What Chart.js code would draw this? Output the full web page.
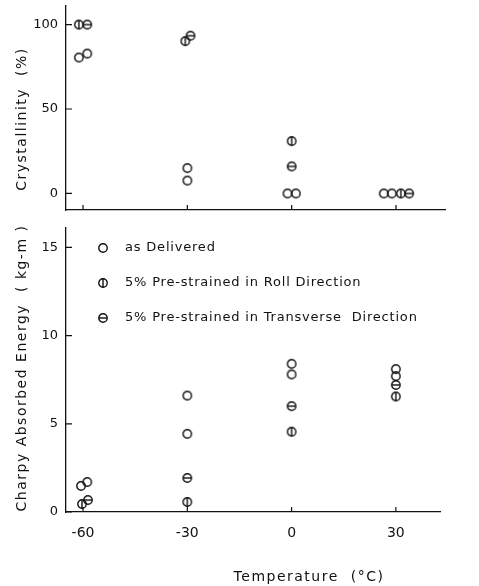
<!DOCTYPE html>
<html>
<head>
<meta charset="utf-8">
<script src="https://cdn.jsdelivr.net/npm/chart.js@4/dist/chart.umd.min.js"></script>
<style>
  html, body { margin: 0; padding: 0; background: #fff; }
  #wrap { position: relative; width: 479px; height: 586px; }
  canvas { position: absolute; left: 0; }
</style>
</head>
<body>
<div id="wrap">
  <canvas id="topChart" width="479" height="216" style="top:0"></canvas>
  <canvas id="botChart" width="479" height="366" style="top:220px"></canvas>
</div>
<script>
// eixo x comum (temperatura, °C)
const xTicks = [-60, -30, 0, 30];
const seriesNames = ['as Delivered', '5% Pre-strained in Roll Direction', '5% Pre-strained in Transverse  Direction'];

// painel de cima: cristalinidade (%)
const crystTicks = [0, 50, 100];
const crystDeliveredX = [-61.2, -58.8, -30, -30, -1.2, 1.2, 26.5, 28.8];
const crystDeliveredY = [80.5, 82.8, 15, 7.6, 0, 0, 0, 0];
const crystRollX = [-61.2, -30.6, 0, 31.4];
const crystRollY = [100, 90.2, 31, 0];
const crystTransX = [-58.8, -29.1, 0, 33.8];
const crystTransY = [100, 93.4, 16, 0];

// painel de baixo: energia Charpy (kg-m)
const charpyTicks = [0, 5, 10, 15];
const charpyDeliveredX = [-60.6, -58.8, -30, -30, 0, 0, 30, 30];
const charpyDeliveredY = [1.48, 1.7, 6.6, 4.43, 8.4, 7.8, 8.1, 7.7];
const charpyRollX = [-60.3, -30, 0, 30];
const charpyRollY = [0.45, 0.57, 4.55, 6.55];
const charpyTransX = [-58.6, -30, 0, 30];
const charpyTransY = [0.68, 1.93, 6.0, 7.2];

const ink = '#111';
const fam = '"DejaVu Sans", sans-serif';

// marcadores: círculo, círculo com traço vertical, círculo com traço horizontal
function marker(kind) {
  const c = document.createElement('canvas');
  c.width = 12; c.height = 12;
  const g = c.getContext('2d');
  g.strokeStyle = ink; g.lineWidth = 1.4;
  g.beginPath(); g.arc(6, 6, 4.2, 0, Math.PI * 2); g.stroke();
  g.beginPath();
  if (kind === 'roll') { g.moveTo(6, 1.2); g.lineTo(6, 10.8); }
  if (kind === 'trans') { g.moveTo(1.8, 6); g.lineTo(10.2, 6); }
  g.stroke();
  return c;
}
const markers = [marker('open'), marker('roll'), marker('trans')];

function pts(xs, ys) { return xs.map((x, i) => ({ x, y: ys[i] })); }
function ds(i, xs, ys) {
  return { label: seriesNames[i], data: pts(xs, ys), pointStyle: markers[i], pointRadius: 5, clip: false };
}

// ticks para dentro, títulos e legenda
const frame = {
  id: 'frame',
  afterDraw(chart, args, opts) {
    const { ctx, chartArea: a, scales: { x, y } } = chart;
    ctx.save();
    ctx.strokeStyle = ink; ctx.lineWidth = 1.2;
    ctx.beginPath();
    x.ticks.forEach(t => { const p = x.getPixelForValue(t.value); ctx.moveTo(p, a.bottom); ctx.lineTo(p, a.bottom - 5); });
    y.ticks.forEach(t => { const p = y.getPixelForValue(t.value); ctx.moveTo(a.left, p); ctx.lineTo(a.left + 6, p); });
    ctx.stroke();

    ctx.fillStyle = ink;
    ctx.font = '14px ' + fam;
    ctx.letterSpacing = opts.titleSpacing;
    ctx.textAlign = 'center'; ctx.textBaseline = 'middle';
    ctx.save();
    ctx.translate(opts.yTitleX, opts.yTitleY);
    ctx.rotate(-Math.PI / 2);
    ctx.fillText(opts.yTitle, 0, 0);
    ctx.restore();
    if (opts.xTitle) ctx.fillText(opts.xTitle, opts.xTitleX, opts.xTitleY);

    if (opts.legend) {
      ctx.font = '13px ' + fam;
      ctx.letterSpacing = '0.8px';
      ctx.textAlign = 'left';
      chart.data.datasets.forEach((d, i) => {
        const ly = a.top + 20 + i * 35;
        const m = markers[i];
        ctx.drawImage(m, a.left + 37 - m.width / 2, ly - m.height / 2);
        ctx.fillText(d.label, a.left + 59, ly);
      });
    }
    ctx.restore();
  }
};

// sem o espaço extra que o Chart.js reserva para os rótulos
function noPad(s) { s.paddingTop = 0; s.paddingBottom = 0; s.paddingLeft = 0; s.paddingRight = 0; }

function xScale(max, showLabels) {
  return {
    type: 'linear', min: -64.9, max,
    afterBuildTicks: s => { s.ticks = xTicks.map(v => ({ value: v })); },
    grid: { display: false, drawTicks: false },
    border: { display: true, color: ink, width: 1.3 },
    ticks: { display: showLabels, color: ink, font: { family: fam, size: 14 }, padding: 13, maxRotation: 0, autoSkip: false },
    afterFit: s => { s.height = showLabels ? 74 : 0; noPad(s); }
  };
}
function yScale(min, max, ticks) {
  return {
    type: 'linear', min, max,
    afterBuildTicks: s => { s.ticks = ticks.map(v => ({ value: v })); },
    grid: { display: false, drawTicks: false },
    border: { display: true, color: ink, width: 1.3 },
    ticks: { color: ink, font: { family: fam, size: 13 }, padding: 8 },
    afterFit: s => { s.width = 66; noPad(s); }
  };
}

const common = {
  responsive: false, animation: false, devicePixelRatio: 1,
  elements: { point: { borderColor: ink, backgroundColor: 'rgba(0,0,0,0)' } }
};

new Chart(document.getElementById('topChart'), {
  type: 'scatter',
  data: { datasets: [ds(0, crystDeliveredX, crystDeliveredY), ds(1, crystRollX, crystRollY), ds(2, crystTransX, crystTransY)] },
  options: {
    ...common,
    layout: { padding: { top: 3, right: 34, bottom: 3, left: 0 } },
    scales: { x: xScale(44.1, false), y: yScale(-9.8, 111, crystTicks) },
    plugins: {
      legend: { display: false }, tooltip: { enabled: false },
      frame: { yTitle: 'Crystallinity  (%)', yTitleX: 22, yTitleY: 119, titleSpacing: '1.5px', legend: false }
    }
  },
  plugins: [frame]
});

new Chart(document.getElementById('botChart'), {
  type: 'scatter',
  data: { datasets: [ds(0, charpyDeliveredX, charpyDeliveredY), ds(1, charpyRollX, charpyRollY), ds(2, charpyTransX, charpyTransY)] },
  options: {
    ...common,
    layout: { padding: { top: 8, right: 39, bottom: 0, left: 0 } },
    scales: { x: xScale(42.7, true), y: yScale(0, 16.1, charpyTicks) },
    plugins: {
      legend: { display: false }, tooltip: { enabled: false },
      frame: {
        yTitle: 'Charpy Absorbed Energy  ( kg-m )', yTitleX: 22, yTitleY: 148, titleSpacing: '1.5px',
        xTitle: 'Temperature  (°C)', xTitleX: 309, xTitleY: 357, legend: true
      }
    }
  },
  plugins: [frame]
});
</script>
</body>
</html>
